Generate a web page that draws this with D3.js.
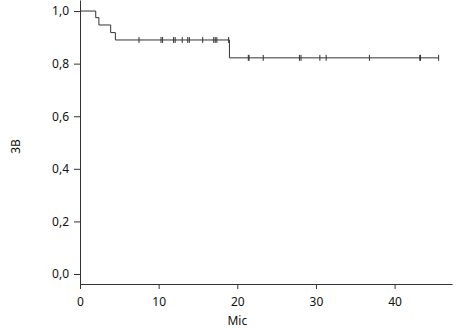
<!DOCTYPE html>
<html>
<head>
<meta charset="utf-8">
<script src="https://cdn.jsdelivr.net/npm/d3@7"></script>
<style>
  body { margin: 0; background: #fff; }
  text { font-family: "Noto Sans", sans-serif; }
</style>
</head>
<body>
<div id="chart"></div>
<script>
// Data
const stepTimes = [0, 2.0, 2.4, 3.9, 4.5, 19.0];
const stepSurv = [1.0, 0.975, 0.947, 0.918, 0.89, 0.822];
const endTime = 45.6;
const censorTimes = [7.5, 10.3, 10.5, 11.9, 12.1, 13.0, 13.7, 13.9, 15.6, 17.0, 17.2, 17.4, 18.9,
  21.4, 21.5, 23.3, 27.9, 28.1, 30.5, 31.3, 36.8, 43.2, 43.3, 45.6];
const xTicks = [0, 10, 20, 30, 40];
const yTicks = [0, 0.2, 0.4, 0.6, 0.8, 1.0];

// Dimensions
const dimensions = { width: 459, height: 329, left: 80, right: 452, top: 0, bottom: 284 };

const svg = d3.select("#chart")
  .append("svg")
  .attr("width", dimensions.width)
  .attr("height", dimensions.height);

// Scales
const xScale = d3.scaleLinear().domain([0, 47.3]).range([dimensions.left, dimensions.right]);
const yScale = d3.scaleLinear().domain([-0.038, 1.042]).range([dimensions.bottom, dimensions.top]);

const fmt = (d) => d3.format(".1f")(d).replace(".", ",");

// Axes
const xAxis = d3.axisBottom(xScale).tickValues(xTicks).tickSize(5).tickPadding(8).tickSizeOuter(0);
const yAxis = d3.axisLeft(yScale).tickValues(yTicks).tickSize(6).tickPadding(5).tickSizeOuter(0).tickFormat(fmt);

const xAxisGroup = svg.append("g")
  .attr("transform", `translate(0, ${dimensions.bottom})`)
  .call(xAxis);
const yAxisGroup = svg.append("g")
  .attr("transform", `translate(${dimensions.left}, 0)`)
  .call(yAxis);

[xAxisGroup, yAxisGroup].forEach((g) => {
  g.selectAll("path, line").attr("stroke", "#333");
  g.selectAll("text").attr("fill", "#111").style("font-size", "12px");
});

// Step line
const stepData = stepTimes.map((t, i) => [t, stepSurv[i]]);
stepData.push([endTime, stepSurv[stepSurv.length - 1]]);

const line = d3.line()
  .x((d) => xScale(d[0]))
  .y((d) => yScale(d[1]))
  .curve(d3.curveStepAfter);

svg.append("path")
  .datum(stepData)
  .attr("fill", "none")
  .attr("stroke", "#333")
  .attr("stroke-width", 1)
  .attr("d", line);

// Censor marks
const survAt = (t) => {
  let s = stepSurv[0];
  stepTimes.forEach((st, i) => { if (st <= t) s = stepSurv[i]; });
  return s;
};

svg.append("g")
  .selectAll("line")
  .data(censorTimes)
  .join("line")
  .attr("x1", (d) => xScale(d))
  .attr("x2", (d) => xScale(d))
  .attr("y1", (d) => yScale(survAt(d)) - 3)
  .attr("y2", (d) => yScale(survAt(d)) + 3)
  .attr("stroke", "#333")
  .attr("stroke-width", 1);

// Labels
svg.append("text")
  .attr("x", xScale(20))
  .attr("y", 325)
  .attr("text-anchor", "middle")
  .attr("fill", "#111")
  .style("font-size", "12px")
  .text("Mic");

svg.append("text")
  .attr("transform", `translate(20, ${yScale(0.5) + 4}) rotate(-90)`)
  .attr("text-anchor", "middle")
  .attr("fill", "#111")
  .style("font-size", "12px")
  .text("3B");
</script>
</body>
</html>
